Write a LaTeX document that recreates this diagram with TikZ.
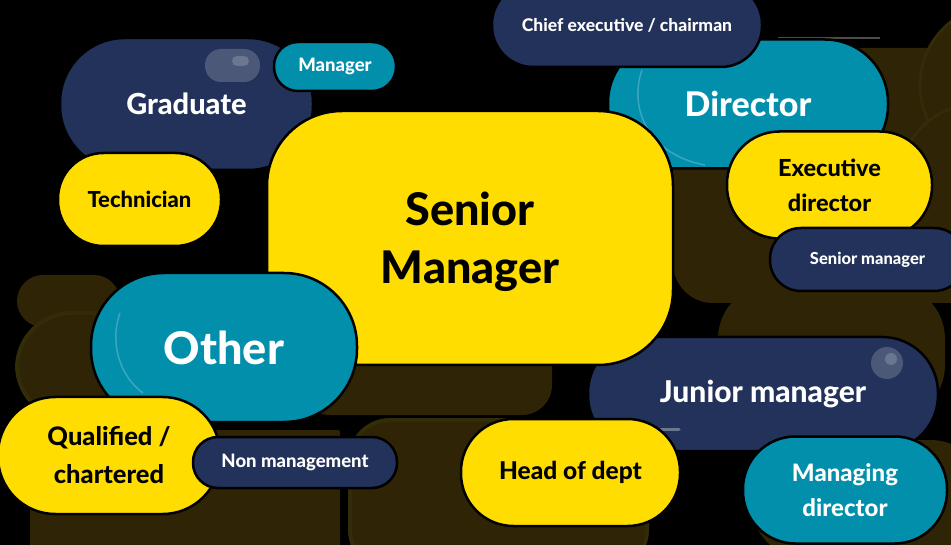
\documentclass[tikz,border=0pt]{standalone}
\usepackage{fontspec}
\IfFontExistsTF{Lato Heavy}{\setmainfont{Lato}[BoldFont={Lato Heavy}]}{\setmainfont{Lato}}
\definecolor{navypill}{HTML}{22325A}
\definecolor{tealpill}{HTML}{018FAC}
\definecolor{yellowpill}{HTML}{FFDD00}
\definecolor{olivebg}{HTML}{2F2405}
\definecolor{olivering}{HTML}{332C08}
\definecolor{knob}{HTML}{4B5878}
\definecolor{knobdot}{HTML}{6B7691}
\definecolor{gleam}{HTML}{3CA6C0}
\begin{document}
\begin{tikzpicture}[x=1pt,y=-1pt,
        pill/.style 2 args={draw=black,line width=2.5pt,rounded corners=#2*0.49pt,
            minimum width=#1pt,minimum height=#2pt,inner sep=0pt,align=center},
        onnavy/.style={fill=navypill,text=white},
        onteal/.style={fill=tealpill,text=white},
        onyellow/.style={fill=yellowpill,text=black}]
            \path[use as bounding box] (0,0) rectangle (951,545);
            \clip (0,0) rectangle (951,545);
            \fill[black] (0,0) rectangle (951,545);
            % faded shapes in the back
            \foreach \xa/\ya/\xb/\yb/\r in {17/275/120/327/26,30/430/340/560/2,300/300/552/415/30,
                673/48/990/303/40,718/284/945/420/55,750/440/990/560/60}
            {
                \fill[olivebg,rounded corners=\r pt] (\xa,\ya) rectangle (\xb,\yb);
            }
            \filldraw[olivebg,draw=olivering,line width=4pt,rounded corners=55pt] (17,313) rectangle (300,420);
            \filldraw[olivebg,draw=olivering,line width=4pt,rounded corners=40pt] (350,420) rectangle (647,570);
            \filldraw[olivebg,draw=olivering,line width=3pt] (1000,85) circle[radius=80pt];
            \filldraw[olivebg,draw=olivering,line width=3pt] (975,180) circle[radius=75pt];
            \draw[black!70,line width=2pt] (778,38) -- (880,38);
            % pills
            \node[pill={253}{132},onnavy,font=\bfseries\fontsize{29}{36}\selectfont] (graduate) at (186.5,104) {Graduate};
            \fill[knob,rounded corners=16pt] (205,49) rectangle (260,82);
            \fill[knobdot,rounded corners=5pt] (232,56) rectangle (249,66);
            \node[pill={163}{93},onyellow,font=\bfseries\fontsize{22}{28}\selectfont] (technician) at (139.5,199.5) {Technician};
            \node[pill={122}{49},onteal,font=\bfseries\fontsize{18.5}{23}\selectfont] (manager) at (335,66.5) {Manager};
            \node[pill={280}{129},onteal,font=\bfseries\fontsize{34}{42}\selectfont] (director) at (748,104) {Director};
            \draw[gleam,line width=1.5pt] (642,70) .. controls (628,110) and (650,155) .. (705,165);
            \node[pill={270}{84},onnavy,font=\bfseries\fontsize{17.5}{22}\selectfont] (chief) at (627,25) {Chief executive / chairman};
            \node[pill={350}{114},onnavy,font=\bfseries\fontsize{30}{37}\selectfont] (junior) at (763,394) {Junior manager};
            \fill[knob] (887,363) circle[radius=16pt];
            \fill[knobdot] (891,359) circle[radius=6pt];
            \draw[knobdot,line width=3pt,line cap=round] (661,429) -- (679,429);
            \node[pill={406}{254},rounded corners=75pt,text depth=0pt,onyellow,font=\bfseries\fontsize{45}{58}\selectfont] (seniormgr) at (470,238) {Senior\\Manager};
            \node[pill={205}{107},onyellow,font=\bfseries\fontsize{23.5}{35}\selectfont] (execdir) at (829.5,185) {Executive\\director};
            \node[pill={195}{63},onnavy,font=\bfseries\fontsize{16.5}{21}\selectfont] (seniorsmall) at (867.5,259.5) {Senior manager};
            \node[pill={266}{149},onteal,font=\bfseries\fontsize{45}{55}\selectfont] (other) at (224,347.5) {Other};
            \draw[gleam,line width=1.5pt] (120,313) .. controls (110,340) and (118,375) .. (143,393);
            \node[pill={222}{117},onyellow,font=\bfseries\fontsize{25.5}{38}\selectfont] (qualified) at (109,455.5) {Qualified /\\chartered};
            \node[pill={204}{51},onnavy,font=\bfseries\fontsize{18.5}{23}\selectfont] (nonmgmt) at (295,462.5) {Non management};
            \node[pill={219}{107},onyellow,font=\bfseries\fontsize{24.5}{30}\selectfont] (headdept) at (570.5,472.5) {Head of dept};
            \node[pill={204}{107},onteal,font=\bfseries\fontsize{24}{35}\selectfont] (managingdir) at (845,490) {Managing\\director};
        \end{tikzpicture}
\end{document}
